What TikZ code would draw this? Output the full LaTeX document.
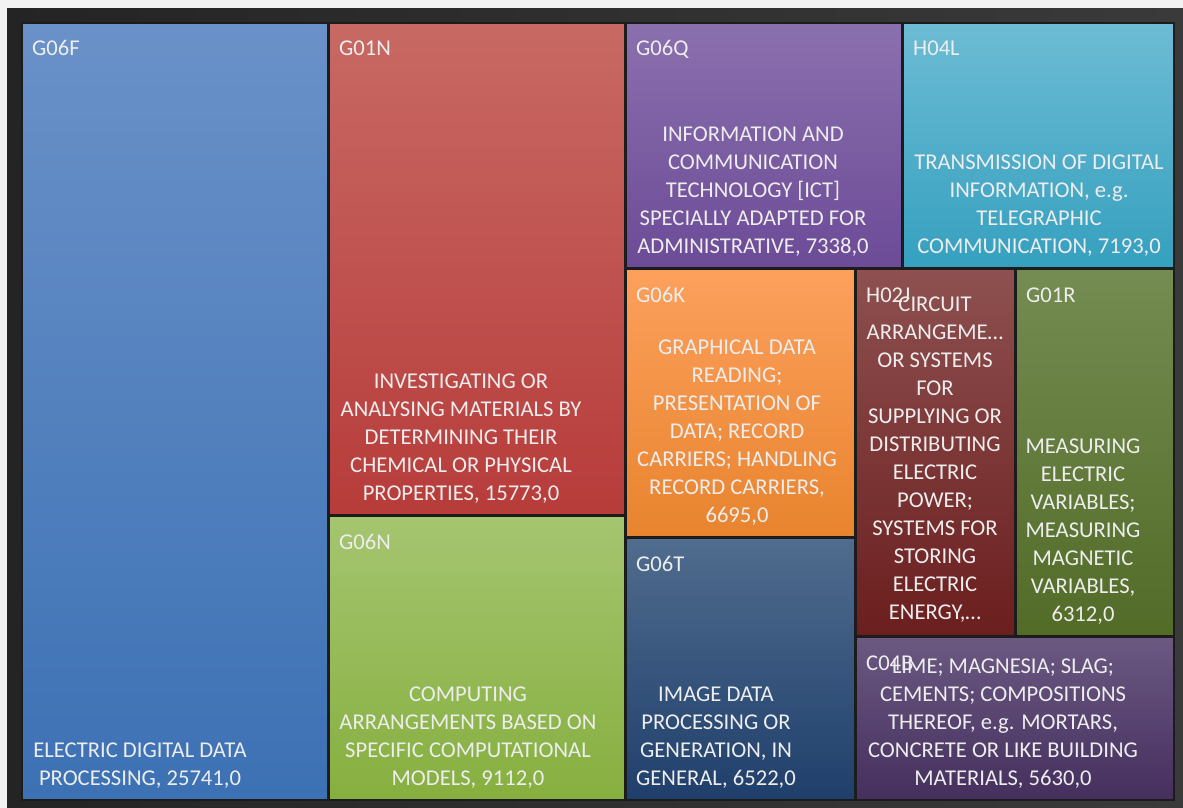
\documentclass[tikz,border=0pt]{standalone}
\usepackage{fontspec}
\setmainfont{Carlito}
\definecolor{bg}{HTML}{F2F2F2}
\definecolor{frameL}{HTML}{242424}
\definecolor{frameR}{HTML}{3A3A3A}
\definecolor{txt}{HTML}{EDEDED}
\definecolor{edge}{HTML}{1C1C1C}
\definecolor{aT}{HTML}{6A91C8}\definecolor{aB}{HTML}{3C71B4}
\definecolor{bT}{HTML}{C86964}\definecolor{bB}{HTML}{B73C3A}
\definecolor{cT}{HTML}{A5C570}\definecolor{cB}{HTML}{86AF3F}
\definecolor{dT}{HTML}{8B70AE}\definecolor{dB}{HTML}{6C4B97}
\definecolor{eT}{HTML}{6DBCD4}\definecolor{eB}{HTML}{35A0BF}
\definecolor{fT}{HTML}{FCA05C}\definecolor{fB}{HTML}{E8842E}
\definecolor{gT}{HTML}{506C8E}\definecolor{gB}{HTML}{1F3F6B}
\definecolor{hT}{HTML}{8E5050}\definecolor{hB}{HTML}{6B1E1E}
\definecolor{iT}{HTML}{758C52}\definecolor{iB}{HTML}{526B27}
\definecolor{jT}{HTML}{6B5982}\definecolor{jB}{HTML}{452F5D}
\begin{document}
\begin{tikzpicture}[x=1pt,y=-1pt,
  tile/.style={draw=edge, line width=1.2pt},
  lbl/.style={anchor=base west, inner sep=0pt, text=txt, font=\fontsize{22.6}{28}\selectfont},
  desc/.style={anchor=base, inner sep=0pt, align=center, text=txt, font=\fontsize{22.6}{28}\selectfont}]
\useasboundingbox (0,0) rectangle (1183,808);
\fill[bg] (0,0) rectangle (1183,808);
\shade[left color=frameL, right color=frameR] (7,9) rectangle (1183,808);
% tiles
\path[tile, top color=aT, bottom color=aB] (22,23) rectangle (328,800);
\path[tile, top color=bT, bottom color=bB] (329,23) rectangle (625,515);
\path[tile, top color=cT, bottom color=cB] (329,516) rectangle (625,800);
\path[tile, top color=dT, bottom color=dB] (626,23) rectangle (902,268);
\path[tile, top color=eT, bottom color=eB] (903,23) rectangle (1174,268);
\path[tile, top color=fT, bottom color=fB] (626,269) rectangle (855,537);
\path[tile, top color=gT, bottom color=gB] (626,538) rectangle (855,800);
\path[tile, top color=hT, bottom color=hB] (856,269) rectangle (1015,636);
\path[tile, top color=iT, bottom color=iB] (1016,269) rectangle (1174,636);
\path[tile, top color=jT, bottom color=jB] (856,637) rectangle (1174,800);
% codes
\node[lbl] (la) at (32,56) {G06F};
\node[lbl] (lb) at (339,56) {G01N};
\node[lbl] (lc) at (339,549) {G06N};
\node[lbl] (ld) at (636,56) {G06Q};
\node[lbl] (le) at (913,56) {H04L};
\node[lbl] (lf) at (636,302) {G06K};
\node[lbl] (lg) at (636,571) {G06T};
\node[lbl] (lh) at (866,302) {H02J};
\node[lbl] (li) at (1026,302) {G01R};
\node[lbl] (lj) at (866,670) {C04B};
% descriptions (anchored at the baseline of their last line)
\node[desc] (da) at (140,785) {ELECTRIC DIGITAL DATA\\PROCESSING, 25741,0};
\node[desc] (db) at (461,500) {INVESTIGATING OR\\ANALYSING MATERIALS BY\\DETERMINING THEIR\\CHEMICAL OR PHYSICAL\\PROPERTIES, 15773,0};
\node[desc] (dc) at (468,785) {COMPUTING\\ARRANGEMENTS BASED ON\\SPECIFIC COMPUTATIONAL\\MODELS, 9112,0};
\node[desc] (dd) at (753,253) {INFORMATION AND\\COMMUNICATION\\TECHNOLOGY [ICT]\\SPECIALLY ADAPTED FOR\\ADMINISTRATIVE, 7338,0};
\node[desc] (de) at (1039,253) {TRANSMISSION OF DIGITAL\\INFORMATION, e.g.\\TELEGRAPHIC\\COMMUNICATION, 7193,0};
\node[desc] (df) at (737,522) {GRAPHICAL DATA\\READING;\\PRESENTATION OF\\DATA; RECORD\\CARRIERS; HANDLING\\RECORD CARRIERS,\\6695,0};
\node[desc] (dg) at (716,785) {IMAGE DATA\\PROCESSING OR\\GENERATION, IN\\GENERAL, 6522,0};
\node[desc] (dh) at (935,619) {CIRCUIT\\ARRANGEME…\\OR SYSTEMS\\FOR\\SUPPLYING OR\\DISTRIBUTING\\ELECTRIC\\POWER;\\SYSTEMS FOR\\STORING\\ELECTRIC\\ENERGY,…};
\node[desc] (di) at (1083,621) {MEASURING\\ELECTRIC\\VARIABLES;\\MEASURING\\MAGNETIC\\VARIABLES,\\6312,0};
\node[desc] (dj) at (1003,785) {LIME; MAGNESIA; SLAG;\\CEMENTS; COMPOSITIONS\\THEREOF, e.g. MORTARS,\\CONCRETE OR LIKE BUILDING\\MATERIALS, 5630,0};
\end{tikzpicture}
\end{document}
